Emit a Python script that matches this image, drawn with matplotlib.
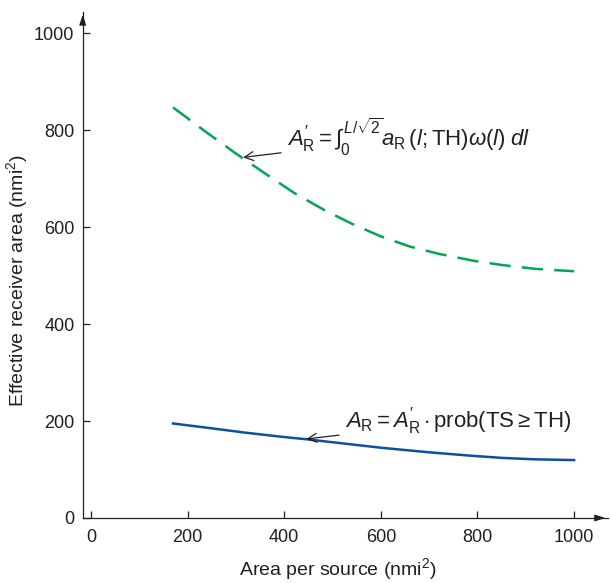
import matplotlib
matplotlib.use("Agg")
import matplotlib.pyplot as plt

plt.rcParams['font.family'] = ['Liberation Sans', 'DejaVu Sans']
plt.rcParams['mathtext.fontset'] = 'custom'
plt.rcParams['mathtext.rm'] = 'Liberation Sans'
plt.rcParams['mathtext.it'] = 'Liberation Sans:italic'
plt.rcParams['mathtext.bf'] = 'Liberation Sans:bold'

# effective receiver area A'_R (dashed) and A_R (solid), nmi^2
area_dashed = [170, 240, 300, 360, 420, 480, 540, 600, 660, 720, 790, 850, 920, 1000]
recv_dashed = [847, 795, 752, 711, 671, 637, 607, 581, 560, 545, 531, 522, 514, 509]

area_solid = [170, 250, 320, 400, 450, 520, 600, 700, 780, 850, 920, 1000]
recv_solid = [195, 185, 176, 167, 162, 154, 145, 135.5, 129, 124, 121, 119.5]

x_ticks = [0, 200, 400, 600, 800, 1000]
y_ticks = [0, 200, 400, 600, 800, 1000]

ink = '#231f20'

fig = plt.figure(figsize=(6.1, 5.83), dpi=100)
ax = fig.add_axes([0.1356, 0.1115, 0.861, 0.868])

ax.plot(area_dashed, recv_dashed, color='#00a651', lw=1.8, dashes=(8.5, 4.5))
ax.plot(area_solid, recv_solid, color='#0d4fa0', lw=1.8)

ax.set_xlim(-17, 1070)
ax.set_ylim(0, 1044)
ax.set_xticks(x_ticks)
ax.set_yticks(y_ticks)
ax.tick_params(direction='in', length=5, width=0.9, colors=ink, labelsize=13)
ax.tick_params(axis='x', pad=8)
ax.tick_params(axis='y', pad=6)

for side in ['top', 'right']:
    ax.spines[side].set_visible(False)
for side in ['left', 'bottom']:
    ax.spines[side].set_color(ink)
    ax.spines[side].set_linewidth(0.9)

# arrow heads at axis ends
ax.annotate('', xy=(1.0, 0), xytext=(0.97, 0), xycoords='axes fraction',
            arrowprops=dict(arrowstyle='-|>,head_length=0.6,head_width=0.2', color=ink, lw=0.9),
            annotation_clip=False)
ax.annotate('', xy=(0, 1.0), xytext=(0, 0.97), xycoords='axes fraction',
            arrowprops=dict(arrowstyle='-|>,head_length=0.6,head_width=0.2', color=ink, lw=0.9),
            annotation_clip=False)

ax.set_xlabel(r'Area per source (nmi$^2$)', fontsize=14, color=ink)
ax.set_ylabel(r'Effective receiver area (nmi$^2$)', fontsize=14, color=ink)
ax.xaxis.set_label_coords(0.486, -0.075)
ax.yaxis.set_label_coords(-0.1, 0.47)

ax.annotate(r"$A_{\rm R}^{\prime} = \int_0^{L/\sqrt{2}} a_{\rm R}\,(l;\mathrm{TH})\omega(l)\;dl$",
            xy=(315, 744), xytext=(405, 785), fontsize=16, color=ink, va='center',
            arrowprops=dict(arrowstyle='->', color=ink, lw=0.9, shrinkA=2, shrinkB=0))
ax.annotate(r"$A_{\rm R} = A_{\rm R}^{\prime} \cdot \mathrm{prob(TS} \geq \mathrm{TH)}$",
            xy=(446, 163), xytext=(525, 200), fontsize=16, color=ink, va='center',
            arrowprops=dict(arrowstyle='->', color=ink, lw=0.9, shrinkA=2, shrinkB=0))

fig.savefig('out.png', dpi=100)
